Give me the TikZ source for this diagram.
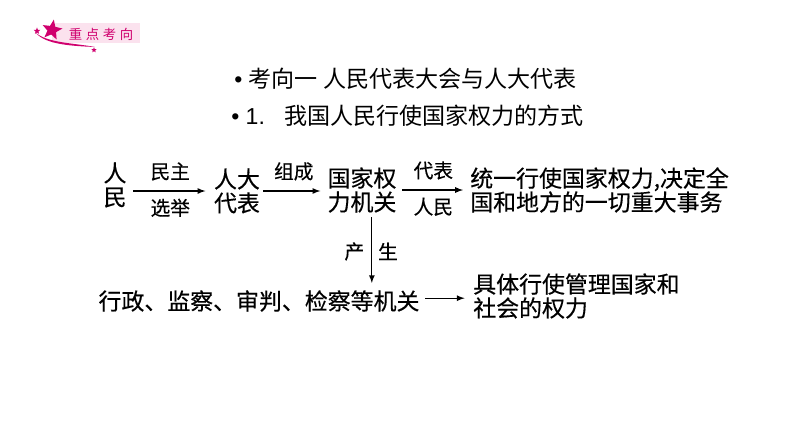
\documentclass[tikz,border=0pt]{standalone}
\usepackage{fontspec}
\setmainfont{Noto Sans CJK SC}
\newfontfamily\latinfont{Liberation Sans}
\newfontfamily\diagfont[FakeBold=0.4]{Noto Sans CJK SC}
\usetikzlibrary{positioning,shapes.geometric,arrows}
\definecolor{badgered}{RGB}{208,0,110}
\definecolor{badgepink}{RGB}{251,226,238}

\begin{document}
\begin{tikzpicture}[
	x=0.025cm, y=-0.025cm,
	word/.style={
		align=center,
		inner sep=0pt,
		font=\diagfont\fontsize{16.3}{17}\selectfont
	},
	sidetext/.style={
		align=left,
		inner sep=0pt,
		anchor=west,
		font=\diagfont\fontsize{16.3}{17}\selectfont
	},
	heading/.style={
		inner sep=0pt,
		anchor=west,
		font=\fontsize{16.4}{17}\selectfont
	},
	lab/.style={
		inner sep=0pt,
		font=\diagfont\fontsize{14}{16}\selectfont
	},
	arr/.style={
		-latex,
		line width=0.9pt
	}
	]
	\useasboundingbox (0,0) rectangle (794,447);
	
	% badge
	\fill[badgepink] (52,23) rectangle (140,43);
	\fill[badgered] (36,33) .. controls (46,45) and (74,46) .. (95,47)
		.. controls (74,43) and (48,43) .. (36,33);
	\node[star, star points=5, star point ratio=2.3, fill=badgered, inner sep=0pt, minimum size=15pt, rotate=-10] (bigstar) at (52,30) {};
	\node[star, star points=5, star point ratio=2.3, fill=badgered, inner sep=0pt, minimum size=5pt] (smallstar) at (37,31) {};
	\node[star, star points=5, star point ratio=2.3, fill=badgered, inner sep=0pt, minimum size=4pt] (tinystar) at (94,50) {};
	\node[inner sep=0pt, text=badgered, font=\fontsize{9.5}{10}\selectfont] (badge) at (101,34)
	{重\hspace{2.6pt}点\hspace{2.6pt}考\hspace{2.6pt}向};
	
	% headings
	\node[heading] (kao) at (234,79)
	{{\latinfont\textbullet\ }考向一 人民代表大会与人大代表};
	\node[heading] (way) at (231,116)
	{{\latinfont\textbullet\ 1.\ \ \ }我国人民行使国家权力的方式};
	
	% first row
	\node[word] (renmin) at (115,185) {人\\民};
	\node[word] (rendai) at (237,191) {人大\\代表};
	\node[word] (guojia) at (362,190) {国家权\\力机关};
	\node[sidetext] (tongyi) at (470,190)
	{统一行使国家权力,决定全\\国和地方的一切重大事务};
	
	% second row
	\node[word] (xingzheng) at (259,301) {行政、监察、审判、检察等机关};
	\node[sidetext] (juti) at (473,296)
	{具体行使管理国家和\\社会的权力};
	
	\draw[arr, shorten <=4.5pt, shorten >=6pt] (renmin.east |- rendai.west) -- (rendai.west)
		node[lab, midway, above=7pt] {民主}
		node[lab, midway, below=5pt] {选举};
	\draw[arr, shorten <=2pt, shorten >=5pt] (rendai.east) -- (rendai.east -| guojia.west)
		node[lab, midway, above=7pt] {组成};
	\draw[arr, shorten <=4pt, shorten >=5pt] (guojia.east) -- (guojia.east -| tongyi.west)
		node[lab, midway, above=7pt] {代表}
		node[lab, midway, below=5pt] {人民};
	\draw[arr, shorten <=3pt, shorten >=5pt] ([xshift=7pt]guojia.south) -- ([xshift=7pt]guojia.south |- xingzheng.north)
		node[lab, midway, left=5pt] {产}
		node[lab, midway, right=4pt] {生};
	\draw[arr, shorten <=4pt, shorten >=6pt] ([yshift=2pt]xingzheng.east) -- ([yshift=2pt]xingzheng.east -| juti.west);
\end{tikzpicture}
\end{document}
